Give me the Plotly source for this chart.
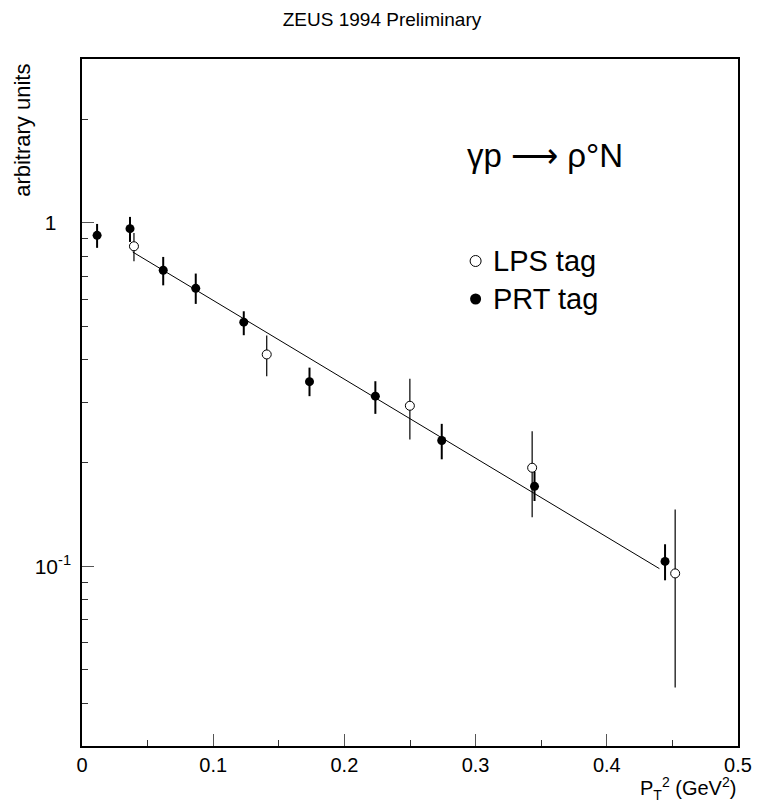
import numpy as np
import plotly.graph_objects as go

# PRT-tagged measurements: pT^2 (GeV^2), value, upper/lower error-bar ends
prt_x = [0.0115, 0.0366, 0.0619, 0.0867, 0.1233, 0.1734, 0.2236, 0.2742, 0.3449, 0.4444]
prt_y = [0.920, 0.962, 0.728, 0.645, 0.514, 0.345, 0.313, 0.2326, 0.171, 0.1034]
prt_hi = [0.993, 1.041, 0.796, 0.712, 0.553, 0.379, 0.346, 0.260, 0.189, 0.116]
prt_lo = [0.846, 0.880, 0.658, 0.581, 0.471, 0.313, 0.278, 0.205, 0.155, 0.0911]

# LPS-tagged measurements
lps_x = [0.0396, 0.1408, 0.2499, 0.3431, 0.4521]
lps_y = [0.855, 0.414, 0.2935, 0.1937, 0.0954]
lps_hi = [0.935, 0.470, 0.352, 0.2475, 0.1465]
lps_lo = [0.773, 0.358, 0.234, 0.139, 0.0444]

# exponential fit, straight on the log scale: end points
fit_x = [0.0386, 0.4401]
fit_y = [0.823, 0.0985]

# axis ticks
x_ticks = [0, 0.1, 0.2, 0.3, 0.4, 0.5]
x_tick_text = ["0", "0.1", "0.2", "0.3", "0.4", "0.5"]
y_ticks = [0.1, 1]
y_tick_text = ["10<sup>-1</sup>", "1\u2002\u2009"]
y_minor = [0.04, 0.05, 0.06, 0.07, 0.08, 0.09,
           0.2, 0.3, 0.4, 0.5, 0.6, 0.7, 0.8, 0.9, 2]

FONT = "Liberation Sans"


def err(y, hi, lo):
    y = np.array(y)
    return dict(type="data", symmetric=False,
                array=(np.array(hi) - y).tolist(),
                arrayminus=(y - np.array(lo)).tolist())


fig = go.Figure()

fig.add_trace(go.Scatter(x=fit_x, y=fit_y, mode="lines",
                         line=dict(color="black", width=1), hoverinfo="skip"))

fig.add_trace(go.Scatter(
    x=prt_x, y=prt_y, mode="markers", name="PRT tag",
    marker=dict(symbol="circle", size=9, color="black"),
    error_y=dict(**err(prt_y, prt_hi, prt_lo), color="black", thickness=2, width=0)))

fig.add_trace(go.Scatter(
    x=lps_x, y=lps_y, mode="markers", name="LPS tag",
    marker=dict(symbol="circle", size=9, color="white",
                line=dict(color="black", width=1)),
    error_y=dict(**err(lps_y, lps_hi, lps_lo), color="black", thickness=1.2, width=0)))

# minor log ticks on an overlaid axis
fig.add_trace(go.Scatter(x=[None], y=[None], yaxis="y2", showlegend=False))

fig.update_layout(
    width=764, height=805,
    margin=dict(l=82, r=17, t=59, b=59),
    paper_bgcolor="white", plot_bgcolor="white",
    showlegend=False,
    font=dict(family=FONT, color="black", size=20),
    title=dict(text="ZEUS 1994 Preliminary", x=0.5, xanchor="center",
               y=1 - 19 / 805, yanchor="middle", font=dict(size=19)),
    xaxis=dict(range=[0, 0.5], tickvals=x_ticks, ticktext=x_tick_text,
               ticks="inside", ticklen=12, tickwidth=1, tickcolor="#555",
               minor=dict(dtick=0.05, ticks="inside", ticklen=6, tickcolor="#333"),
               showline=True, linecolor="black", linewidth=1.5, mirror=True,
               showgrid=False, zeroline=False, tickfont=dict(size=20)),
    yaxis=dict(type="log", range=[np.log10(0.03), np.log10(3)],
               tickvals=y_ticks, ticktext=y_tick_text,
               ticks="inside", ticklen=12, tickwidth=1, tickcolor="#555",
               showline=True, linecolor="black", linewidth=1.5, mirror=True,
               showgrid=False, zeroline=False, tickfont=dict(size=21),
               ticklabelstandoff=5),
    yaxis2=dict(type="log", range=[np.log10(0.03), np.log10(3)], overlaying="y",
                side="left", tickvals=y_minor, ticks="inside", ticklen=6,
                tickcolor="#333", showticklabels=False, showgrid=False,
                zeroline=False, showline=False),
)

annotations = [
    dict(text="arbitrary units", textangle=-90, font=dict(size=22),
         xanchor="center", yanchor="middle"),
    dict(text="P<sub>T</sub><sup>2</sup> (GeV<sup>2</sup>)", font=dict(size=20),
         xanchor="right", yanchor="middle"),
    dict(text="γp ⟶ ρ°N", font=dict(size=33), xanchor="left", yanchor="middle"),
    dict(text="LPS tag", font=dict(size=29), xanchor="left", yanchor="middle"),
    dict(text="PRT tag", font=dict(size=29), xanchor="left", yanchor="middle"),
]

# place annotations in pixel positions converted to paper coordinates
W, H = 764 - 82 - 17, 805 - 59 - 59


def px(xp, yp):
    return (xp - 82) / W, (805 - 59 - yp) / H


positions = [(21, 130), (747, 788), (470, 155), (497, 261), (497, 299)]
for a, (xp, yp) in zip(annotations, positions):
    a["x"], a["y"] = px(xp, yp)
    a.update(xref="paper", yref="paper", showarrow=False)
fig.update_layout(annotations=annotations)

# legend markers next to the labels
lx, ly1 = px(481, 261)
_, ly2 = px(481, 299)
fig.add_trace(go.Scatter(x=[lx], y=[ly1], xaxis="x3", yaxis="y3", mode="markers",
                         marker=dict(size=11, color="white",
                                     line=dict(color="black", width=1)),
                         showlegend=False, hoverinfo="skip"))
fig.add_trace(go.Scatter(x=[lx], y=[ly2], xaxis="x3", yaxis="y3", mode="markers",
                         marker=dict(size=11, color="black"),
                         showlegend=False, hoverinfo="skip"))
fig.update_layout(
    xaxis3=dict(range=[0, 1], overlaying="x", visible=False),
    yaxis3=dict(range=[0, 1], overlaying="y", visible=False),
)

fig.write_html("out.html")
